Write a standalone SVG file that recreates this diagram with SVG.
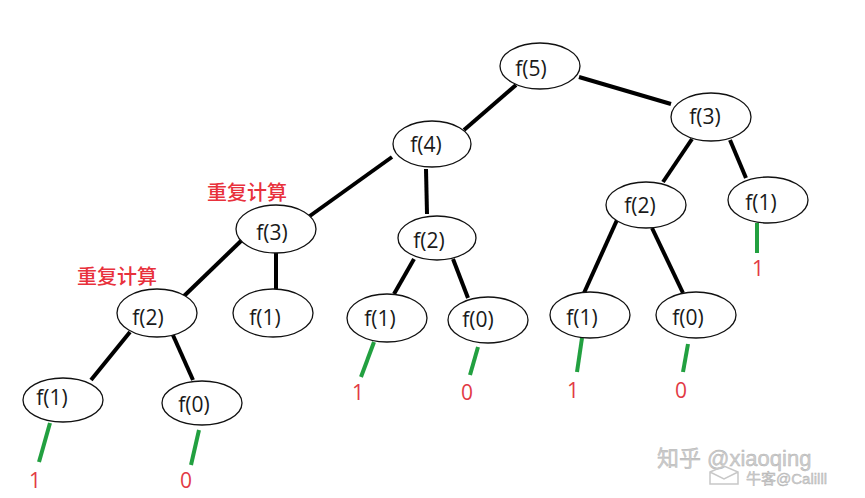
<svg xmlns="http://www.w3.org/2000/svg" width="865" height="498" viewBox="0 0 865 498">
<style>
.n ellipse{fill:#fff;stroke:#111;stroke-width:1.3}
.n text{font-family:"Open Sans","Liberation Sans",sans-serif;font-size:21px;fill:#1a1a1a;text-anchor:middle}
.e line{stroke:#000;stroke-width:4;stroke-linecap:butt}
.g line{stroke:#22a040;stroke-width:4}
.v{font-family:"Open Sans","Liberation Sans",sans-serif;font-size:21px;fill:#e23a44;text-anchor:middle}
.lab{font-family:"Noto Sans CJK SC",sans-serif;font-size:20px;fill:#e8313c;font-weight:500}
.wm{font-family:"Liberation Sans","Noto Sans CJK SC",sans-serif;fill:#cdcdcd;stroke:#b0b0b0;stroke-width:0.4}
</style>
<rect width="865" height="498" fill="#fff"/>
<g id="connectors">
 <g class="e">
  <line x1="516" y1="85" x2="464" y2="130"/>
  <line x1="579" y1="77" x2="671" y2="104"/>
  <line x1="392" y1="157" x2="307" y2="218"/>
  <line x1="426" y1="169" x2="427" y2="214"/>
  <line x1="242" y1="240" x2="183" y2="297"/>
  <line x1="276" y1="253" x2="276" y2="289"/>
  <line x1="130" y1="332" x2="91" y2="380"/>
  <line x1="172" y1="333" x2="193" y2="380"/>
  <line x1="414" y1="259" x2="394" y2="294"/>
  <line x1="453" y1="259" x2="468" y2="298"/>
  <line x1="692" y1="139" x2="663" y2="182"/>
  <line x1="730" y1="140" x2="746" y2="178"/>
  <line x1="617" y1="220" x2="584" y2="293"/>
  <line x1="652" y1="228" x2="683" y2="293"/>
 </g>
 <g class="g">
  <line x1="50" y1="423" x2="39" y2="462"/>
  <line x1="199" y1="430" x2="191" y2="465"/>
  <line x1="374" y1="342" x2="361" y2="377"/>
  <line x1="478" y1="347" x2="470" y2="375"/>
  <line x1="757" y1="223" x2="757" y2="253"/>
  <line x1="582" y1="338" x2="577" y2="372"/>
  <line x1="688" y1="344" x2="683" y2="372"/>
 </g>
</g>
<g id="f5" class="n"><ellipse cx="540" cy="66" rx="40" ry="23"/><text x="531" y="76">f(5)</text></g>
<g id="f4" class="n"><ellipse cx="432" cy="144" rx="39" ry="23"/><text x="426" y="152">f(4)</text></g>
<g id="f3r" class="n"><ellipse cx="711" cy="117" rx="40" ry="24"/><text x="705" y="124">f(3)</text></g>
<g id="f3l" class="n"><ellipse cx="276" cy="229" rx="40" ry="24"/><text x="272" y="240">f(3)</text></g>
<g id="f2l" class="n"><ellipse cx="157" cy="313" rx="40" ry="24"/><text x="148" y="325">f(2)</text></g>
<g id="f1a" class="n"><ellipse cx="273" cy="313" rx="40" ry="24"/><text x="265" y="325">f(1)</text></g>
<g id="f1b" class="n"><ellipse cx="63" cy="400" rx="40" ry="22"/><text x="52" y="405">f(1)</text></g>
<g id="f0b" class="n"><ellipse cx="202" cy="403" rx="40" ry="22"/><text x="194" y="412">f(0)</text></g>
<g id="f2m" class="n"><ellipse cx="437" cy="238" rx="39" ry="22"/><text x="429" y="248">f(2)</text></g>
<g id="f1m" class="n"><ellipse cx="387" cy="318" rx="40" ry="24"/><text x="380" y="326">f(1)</text></g>
<g id="f0m" class="n"><ellipse cx="488" cy="320" rx="40" ry="23"/><text x="478" y="327">f(0)</text></g>
<g id="f2r" class="n"><ellipse cx="646" cy="205" rx="40" ry="23"/><text x="640" y="213">f(2)</text></g>
<g id="f1r" class="n"><ellipse cx="768" cy="200" rx="40" ry="23"/><text x="761" y="210">f(1)</text></g>
<g id="f1c" class="n"><ellipse cx="590" cy="315" rx="40" ry="23"/><text x="582" y="325">f(1)</text></g>
<g id="f0c" class="n"><ellipse cx="696" cy="315" rx="40" ry="23"/><text x="688" y="325">f(0)</text></g>
<g id="values">
 <text class="v" x="35" y="488">1</text>
 <text class="v" x="186" y="488">0</text>
 <text class="v" x="358" y="400">1</text>
 <text class="v" x="467" y="400">0</text>
 <text class="v" x="758" y="276">1</text>
 <text class="v" x="573" y="398">1</text>
 <text class="v" x="681" y="398">0</text>
</g>
<g id="labels">
 <text class="lab" x="207" y="200">重复计算</text>
 <text class="lab" x="77" y="284">重复计算</text>
</g>
<g id="watermark">
 <text class="wm" x="657" y="466" font-size="22">知乎 @xiaoqing</text>
 <path d="M710 472 L724 466 L738 472 L738 484 L710 484 Z M710 472 L724 479 L738 472" fill="none" stroke="#c8c8c8" stroke-width="1.5"/>
 <text class="wm" x="746" y="484" font-size="15">牛客@Calilll</text>
</g>
</svg>
